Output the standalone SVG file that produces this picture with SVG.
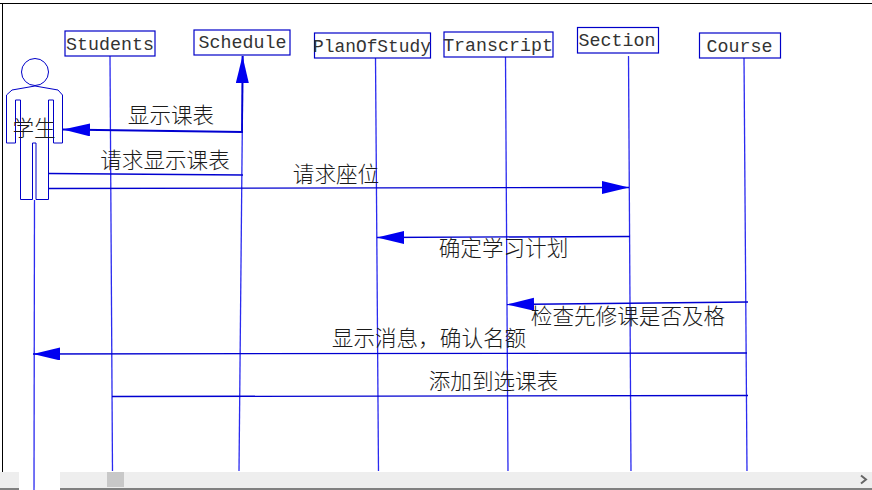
<svg xmlns="http://www.w3.org/2000/svg" width="872" height="490" viewBox="0 0 872 490">
<style>
.box{fill:#fff;stroke:#0000c8;stroke-width:1.2}
.shape{fill:#fff;stroke:#0000c8;stroke-width:1}
.life{fill:none;stroke:#2a2af0;stroke-width:1.3}
.msg{fill:none;stroke:#0000d0;stroke-width:1.3}
.name{font-family:"Liberation Mono",monospace;font-size:18.3px;fill:#333;text-anchor:middle}
.lab{font-family:"Noto Sans CJK SC","Liberation Sans",sans-serif;font-size:21.6px;font-weight:300;fill:#1a1a1a;text-anchor:middle}
</style>
<defs>
<marker id="head" markerUnits="userSpaceOnUse" markerWidth="28" markerHeight="14" refX="27" refY="6.5" orient="auto">
<path d="M0,0 L27,6.5 L0,13 Z" fill="#0000f0"/>
</marker>
</defs>
<rect width="872" height="490" fill="#fff"/>
<g id="frame">
<path d="M0,3.500 H872 M2.500,3.500 V472" fill="none" stroke="#000" stroke-width="1"/>
<rect x="0" y="472" width="872" height="16" fill="#eeeeee"/>
<rect x="0" y="488" width="872" height="2" fill="#808080"/>
<rect x="19" y="472" width="41" height="18" fill="#fff"/>
<rect x="107" y="472" width="17" height="15" fill="#c8c8c8"/>
<path d="M861,475.500 L866,479.500 L861,483.500" fill="none" stroke="#666" stroke-width="2"/>
</g>
<g id="connectors">
<path class="life" d="M110,56 L112.500,471"/>
<path class="life" d="M243,56 L239,471"/>
<path class="life" d="M375.500,57 L378.500,471"/>
<path class="life" d="M505.500,57 L508,471"/>
<path class="life" d="M628.500,56 L631,471"/>
<path class="life" d="M744,57 L747,471"/>
<path class="life" d="M34.500,200 L34,490"/>
<path class="msg" style="stroke-width:1.800" d="M243,132 L63,129.500" marker-end="url(#head)"/>
<path class="msg" style="stroke-width:1.800" d="M242,132 L242.500,56" marker-end="url(#head)"/>
<path class="msg" d="M49,173.500 L243,175"/>
<path class="msg" d="M49,188.500 L629,187.500" marker-end="url(#head)"/>
<path class="msg" d="M630,236.500 L377,237.500" marker-end="url(#head)"/>
<path class="msg" d="M748,302 L507,304.500" marker-end="url(#head)"/>
<path class="msg" d="M747,353 L33,354" marker-end="url(#head)"/>
<path class="msg" d="M112,396.500 L748,395.500"/>
</g>
<g id="actor">
<circle class="shape" cx="35" cy="72" r="13.500"/>
<path class="shape" style="fill:none" d="M35,86 L12,90 L6.500,95 V143 H15.500 V100 H20.500 V199.500 H32.500 V143 H36 V199.500 H48.500 V100 H53.500 V143 H62.500 V95 L58,90 Z"/>
<text class="lab" x="34" y="136">学生</text>
</g>
<g id="students"><rect class="box" x="65" y="31" width="90" height="25"/><text class="name" x="110" y="49.500">Students</text></g>
<g id="schedule"><rect class="box" x="194" y="30" width="96" height="25"/><text class="name" x="242.500" y="48">Schedule</text></g>
<g id="planofstudy"><rect class="box" x="314.500" y="33" width="116" height="25"/><text class="name" x="372" y="51.500" textLength="118" lengthAdjust="spacingAndGlyphs">PlanOfStudy</text></g>
<g id="transcript"><rect class="box" x="444" y="32" width="109" height="25"/><text class="name" x="498" y="50.500">Transcript</text></g>
<g id="section"><rect class="box" x="577.500" y="27.500" width="81" height="25.500"/><text class="name" x="617" y="46">Section</text></g>
<g id="course"><rect class="box" x="699.500" y="33" width="81" height="25"/><text class="name" x="739.500" y="51.500">Course</text></g>
<g id="labels">
<text class="lab" x="171" y="122.500">显示课表</text>
<text class="lab" x="165" y="168">请求显示课表</text>
<text class="lab" x="336" y="182">请求座位</text>
<text class="lab" x="503.500" y="256">确定学习计划</text>
<text class="lab" x="628" y="324">检查先修课是否及格</text>
<text class="lab" x="429" y="346">显示消息，确认名额</text>
<text class="lab" x="493.500" y="389">添加到选课表</text>
</g>
</svg>
